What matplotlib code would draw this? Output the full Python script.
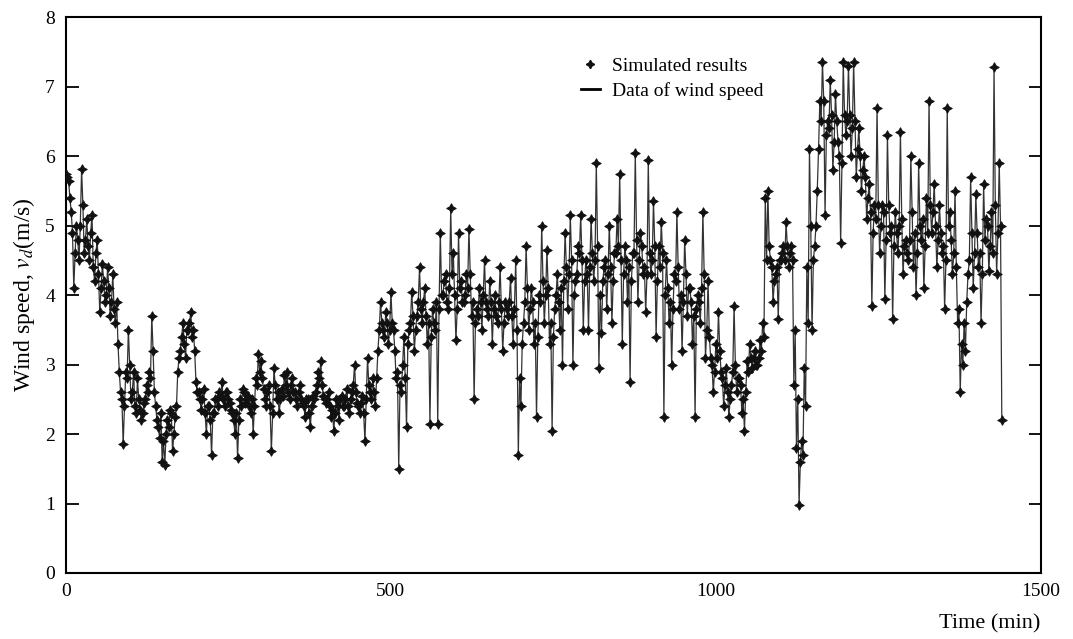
import numpy as np
import matplotlib
matplotlib.use("Agg")
import matplotlib.pyplot as plt
from matplotlib.lines import Line2D

plt.rcParams['font.family'] = ['Liberation Serif', 'DejaVu Serif']
plt.rcParams['mathtext.fontset'] = 'stix'

# readings taken every 4 minutes, on two interleaved grids (t = 0, 4, ... and t = 2, 6, ...)
time_a = np.arange(0, 1444, 4)
time_b = np.arange(2, 1440, 4)

# wind speed (m/s) at t = 0, 4, 8, ...
speed_a = [
    5.75, 5.65, 5.2, 4.1, 5.0, 4.5, 5.82, 4.6, 5.1, 4.5, 5.15, 4.2, 4.8, 3.75, 4.45,
    3.9, 4.4, 3.7, 4.3, 3.6, 3.3, 2.6, 1.85, 2.9, 3.5,
    2.5, 2.9, 2.3, 2.5, 2.2, 2.45, 2.7, 2.9, 3.7, 2.6, 2.2, 1.95, 1.6, 1.55, 2.2,
    2.35, 1.75, 2.25, 2.9, 3.2, 3.6, 3.1, 3.5, 3.75, 3.5,
    2.75, 2.6, 2.35, 2.65, 2.0, 2.4, 1.7, 2.3, 2.5, 2.6, 2.75, 2.4, 2.6, 2.45, 2.3,
    2.0, 1.65, 2.5, 2.65, 2.45, 2.55, 2.3, 2.0, 2.8, 3.15,
    3.05, 2.65, 2.4, 2.7, 1.75, 2.95, 2.5, 2.3, 2.65, 2.85, 2.9, 2.5, 2.8, 2.6, 2.4,
    2.7, 2.45, 2.25, 2.5, 2.1, 2.55, 2.6, 2.9, 3.05, 2.55,
    2.45, 2.6, 2.25, 2.05, 2.5, 2.2, 2.55, 2.4, 2.65, 2.3, 2.6, 3.0, 2.45, 2.3, 2.55,
    1.9, 3.1, 2.6, 2.8, 2.4, 3.2, 3.9, 3.5, 3.75, 3.3,
    4.05, 3.5, 2.8, 1.5, 2.6, 3.4, 2.1, 3.5, 4.05, 3.2, 3.7, 4.4, 3.6, 4.1, 3.3,
    2.15, 3.8, 3.5, 2.15, 4.9, 4.0, 4.3, 3.8, 5.25, 4.6,
    3.35, 4.9, 4.2, 3.9, 4.3, 4.95, 3.7, 2.5, 3.8, 4.1, 3.5, 4.5, 3.8, 4.2, 3.3,
    4.0, 3.6, 4.4, 3.2, 3.9, 3.7, 4.25, 3.3, 4.5, 1.7,
    2.4, 3.6, 4.7, 3.5, 4.1, 3.3, 2.25, 4.0, 5.0, 3.6, 4.65, 3.3, 2.05, 3.8, 4.3,
    3.5, 3.0, 4.9, 3.8, 5.15, 3.0, 4.2, 4.7, 5.15, 3.5,
    4.5, 3.5, 5.1, 4.2, 5.9, 2.95, 3.45, 4.4, 3.8, 5.0, 3.6, 4.6, 5.1, 5.75, 3.3,
    4.7, 3.9, 2.75, 4.6, 6.05, 3.9, 4.9, 4.3, 3.75, 5.95,
    4.3, 5.35, 3.4, 4.7, 5.05, 2.25, 4.5, 3.6, 3.0, 4.3, 5.2, 3.8, 3.2, 4.8, 3.7,
    4.1, 3.3, 2.25, 4.0, 3.6, 5.2, 3.1, 4.2, 3.1, 2.6,
    3.3, 3.75, 2.9, 2.4, 2.95, 2.25, 2.7, 3.85, 2.6, 2.8, 2.3, 2.05, 3.05, 3.3, 2.95,
    3.2, 3.0, 3.35, 3.6, 5.4, 5.5, 4.5, 3.9, 4.3, 3.65,
    4.5, 4.7, 5.05, 4.4, 4.7, 2.7, 1.8, 0.98, 1.9, 2.95, 4.4, 6.1, 3.5, 4.7, 5.5,
    6.8, 7.35, 5.15, 6.5, 7.1, 5.8, 6.9, 6.2, 4.75, 7.35,
    6.3, 7.3, 6.0, 7.35, 5.7, 6.4, 5.5, 6.0, 5.1, 5.6, 3.85, 5.3, 6.7, 4.6, 5.3,
    3.95, 6.3, 4.9, 3.65, 5.2, 4.6, 6.35, 4.3, 4.8, 4.5,
    6.0, 4.4, 4.0, 5.9, 4.8, 4.1, 5.4, 6.8, 4.9, 5.6, 4.4, 5.3, 4.6, 3.8, 6.7,
    5.2, 4.3, 5.5, 3.6, 2.6, 3.0, 3.2, 4.3, 5.7, 4.1,
    5.45, 4.4, 3.6, 5.6, 5.1, 4.35, 5.2, 7.28, 4.3, 5.9, 2.2,
]

# wind speed (m/s) at t = 2, 6, 10, ...
speed_b = [
    5.7, 5.4, 4.9, 4.6, 4.8, 5.0, 5.3, 4.8, 4.7, 4.9, 4.4, 4.6, 4.3, 4.1, 4.2,
    4.0, 4.1, 3.9, 3.8, 3.9, 2.9, 2.5, 2.4, 2.8, 3.0,
    2.6, 2.4, 2.8, 2.35, 2.3, 2.5, 2.6, 2.8, 3.2, 2.4, 2.1, 2.3, 1.9, 2.0, 2.1,
    2.3, 2.0, 2.4, 3.1, 3.4, 3.3, 3.5, 3.6, 3.4, 3.2,
    2.6, 2.5, 2.5, 2.3, 2.4, 2.2, 2.3, 2.5, 2.4, 2.55, 2.5, 2.6, 2.5, 2.35, 2.2,
    2.3, 2.2, 2.4, 2.6, 2.5, 2.4, 2.5, 2.4, 2.7, 2.9,
    2.8, 2.5, 2.6, 2.4, 2.3, 2.7, 2.6, 2.5, 2.55, 2.7, 2.6, 2.7, 2.6, 2.5, 2.6,
    2.5, 2.4, 2.5, 2.3, 2.4, 2.5, 2.7, 2.8, 2.7, 2.5,
    2.5, 2.4, 2.35, 2.3, 2.4, 2.5, 2.4, 2.5, 2.4, 2.5, 2.7, 2.6, 2.4, 2.45, 2.3,
    2.5, 2.7, 2.5, 2.6, 2.8, 3.5, 3.6, 3.4, 3.6, 3.5,
    3.6, 3.2, 2.9, 2.7, 3.0, 2.8, 3.3, 3.6, 3.7, 3.5, 3.9, 3.8, 3.9, 3.7, 3.6,
    3.4, 3.6, 3.9, 3.8, 4.0, 4.2, 3.9, 4.1, 4.3, 4.0,
    3.8, 4.1, 3.9, 4.0, 4.1, 4.3, 3.9, 3.6, 3.7, 3.9, 4.0, 3.9, 3.7, 3.9, 3.8,
    3.7, 3.9, 3.8, 3.6, 3.8, 3.9, 3.7, 3.8, 3.5, 2.8,
    3.3, 3.9, 4.1, 3.8, 3.9, 3.6, 3.4, 3.9, 4.2, 4.0, 4.1, 3.6, 3.4, 4.0, 3.9,
    4.1, 4.2, 4.4, 4.3, 4.5, 4.0, 4.3, 4.6, 4.5, 4.2,
    4.3, 4.4, 4.6, 4.5, 4.7, 4.0, 4.2, 4.5, 4.3, 4.4, 4.2, 4.6, 4.7, 4.5, 4.3,
    4.5, 4.4, 4.2, 4.6, 4.8, 4.5, 4.7, 4.4, 4.3, 4.6,
    4.5, 4.7, 4.2, 4.4, 4.6, 4.0, 4.1, 3.9, 3.8, 4.2, 4.4, 4.0, 3.9, 4.3, 4.1,
    3.9, 3.7, 3.8, 3.9, 4.1, 4.3, 3.5, 3.4, 3.0, 2.9,
    3.1, 3.2, 2.8, 2.7, 2.6, 2.5, 2.9, 3.0, 2.8, 2.7, 2.5, 2.6, 2.9, 3.1, 3.1,
    3.0, 3.1, 3.2, 3.4, 4.5, 4.7, 4.4, 4.2, 4.4, 4.5,
    4.6, 4.5, 4.7, 4.6, 4.5, 3.5, 2.5, 1.6, 1.7, 2.4, 3.6, 5.0, 4.5, 5.0, 6.1,
    6.5, 6.8, 6.3, 6.4, 6.6, 6.2, 6.5, 6.0, 5.9, 6.6,
    6.5, 6.6, 6.4, 6.5, 6.1, 6.0, 5.8, 5.7, 5.4, 5.2, 4.9, 5.1, 5.3, 5.0, 5.2,
    4.8, 5.3, 5.0, 4.7, 4.9, 5.0, 5.1, 4.7, 4.6, 4.8,
    5.2, 4.9, 4.6, 5.0, 5.1, 4.7, 4.9, 5.3, 5.2, 5.0, 4.8, 4.9, 4.7, 4.5, 5.0,
    4.8, 4.6, 4.4, 3.8, 3.3, 3.6, 3.9, 4.5, 4.9, 4.6,
    4.9, 4.6, 4.3, 4.8, 5.0, 4.7, 4.6, 5.3, 4.9, 5.0,
]

time_min = np.concatenate([time_a, time_b])
wind_speed = np.concatenate([speed_a, speed_b])
order = np.argsort(time_min)
time_min = time_min[order]
wind_speed = wind_speed[order]

fig = plt.figure(figsize=(10.73, 6.39), dpi=100)
ax = fig.add_axes([0.0615, 0.1033, 0.9085, 0.8697])

star = (4, 1, 0)
ax.plot(time_min, wind_speed, color='#333333', linewidth=0.9, zorder=2)
ax.plot(time_min, wind_speed, linestyle='none', marker=star, markersize=7,
        color='#111111', markeredgewidth=0.6, zorder=3)

ax.set_xlim(0, 1500)
ax.set_ylim(0, 8)
ax.set_xticks([0, 500, 1000, 1500])
ax.set_yticks(range(0, 9))
ax.tick_params(axis='y', direction='in', length=9, width=1.3, labelsize=14,
               left=True, right=True, pad=8)
ax.tick_params(axis='x', length=0, labelsize=14, pad=7)
for s in ax.spines.values():
    s.set_linewidth(1.5)

ax.set_ylabel(r'Wind speed, $v_d$(m/s)', fontsize=17, labelpad=6)
ax.text(1.0, -0.075, 'Time (min)', transform=ax.transAxes, ha='right', va='top',
        fontsize=16)

handles = [Line2D([], [], linestyle='none', marker=star, markersize=6, color='#111111'),
           Line2D([], [], color='black', linewidth=2)]
ax.legend(handles, ['Simulated results', 'Data of wind speed'], loc='upper left',
          bbox_to_anchor=(0.51, 0.96), frameon=False, fontsize=14,
          handlelength=1.0, handletextpad=0.6, labelspacing=0.4)

fig.savefig('out.png', dpi=100)
